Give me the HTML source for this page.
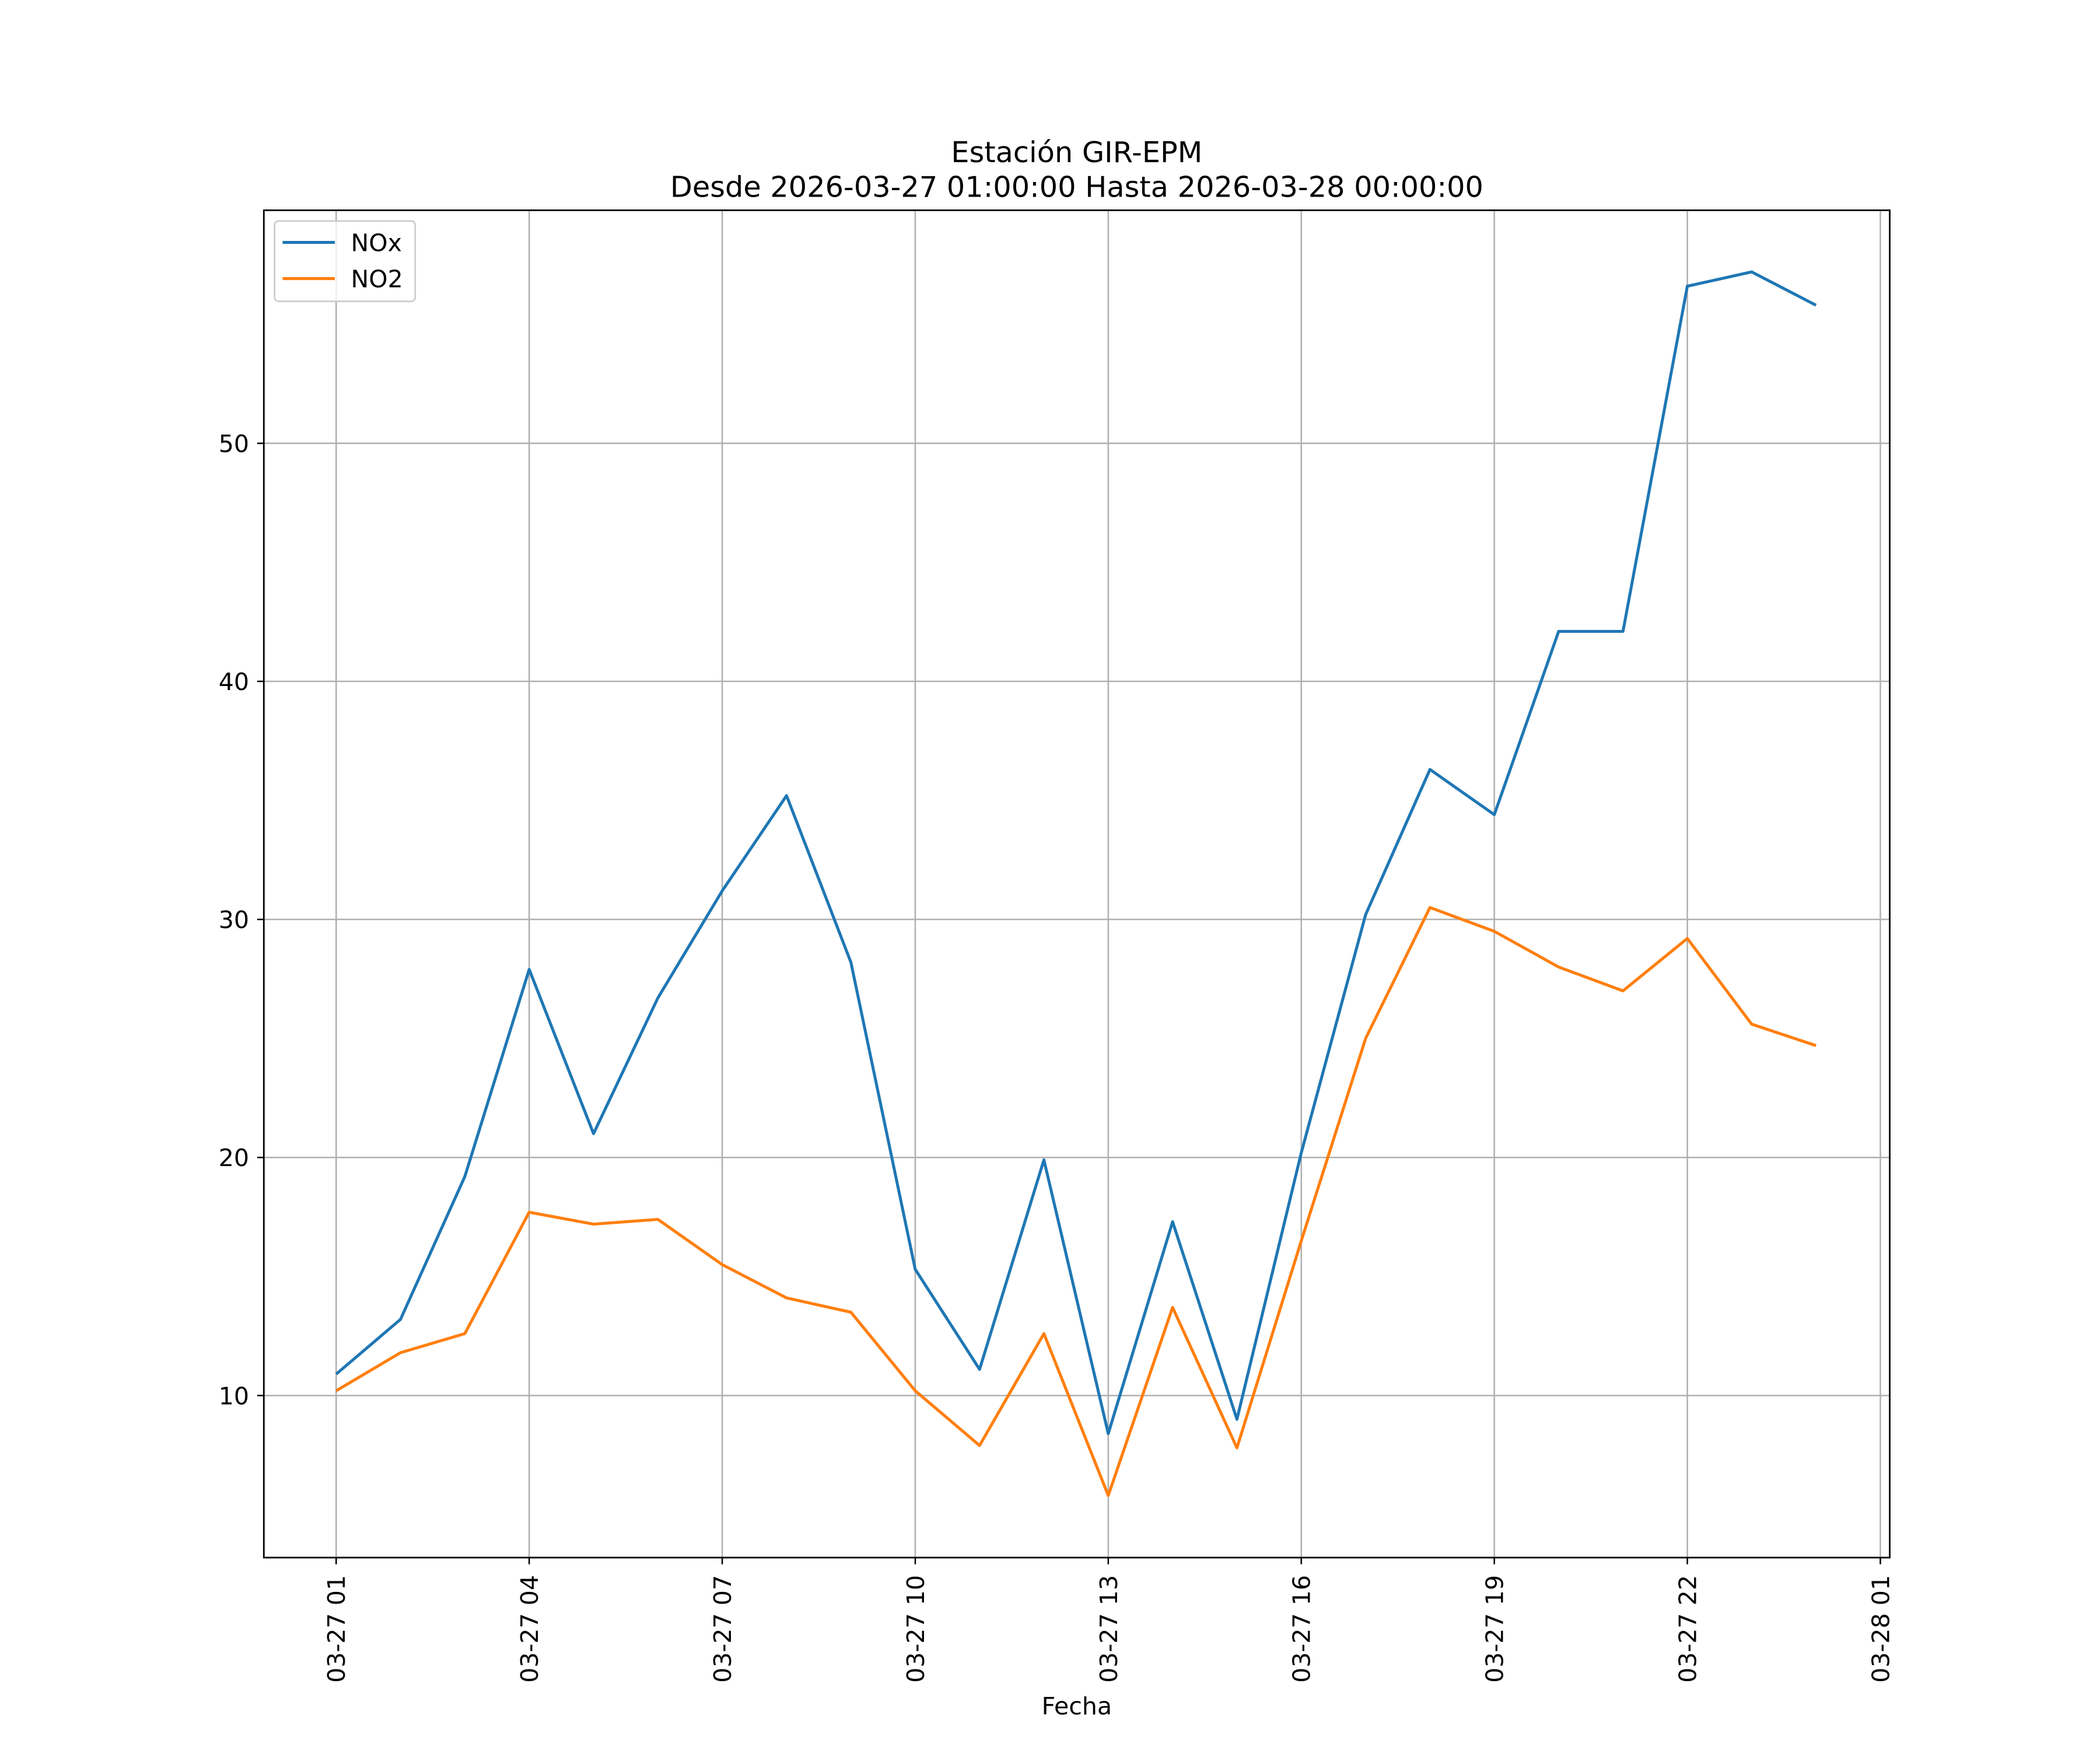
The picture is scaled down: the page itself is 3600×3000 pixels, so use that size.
<!DOCTYPE html>
<html><head><meta charset="utf-8"><style>
html,body{margin:0;padding:0;background:#fff;}
svg{display:block;font-family:"DejaVu Sans","Liberation Sans",sans-serif;}
</style></head>
<body>
<svg id="chart" width="3600" height="3000" viewBox="0 0 1568 1306.67" xmlns="http://www.w3.org/2000/svg">
<rect width="1568" height="1307" fill="#fff"/>
<text x="804" y="121" text-anchor="middle" font-size="21.5">Estación GIR-EPM</text>
<text x="804" y="147" text-anchor="middle" font-size="21.5">Desde 2026-03-27 01:00:00 Hasta 2026-03-28 00:00:00</text>
<g id="grid"></g>
<g id="series"></g>
<rect x="197" y="157" width="1214" height="1006" fill="none" stroke="#000" stroke-width="1.2"/>
<g id="ticks"></g>
<text x="804" y="1280" text-anchor="middle" font-size="17.9">Fecha</text>
<g>
<rect x="205" y="165" width="105" height="60" rx="3" fill="#fff" fill-opacity="0.8" stroke="#ccc" stroke-width="1.2"/>
<line x1="211" y1="181" x2="250" y2="181" stroke="#1f77b4" stroke-width="2.2"/>
<text x="262" y="187.5" font-size="17.9">NOx</text>
<line x1="211" y1="208" x2="250" y2="208" stroke="#ff7f0e" stroke-width="2.2"/>
<text x="262" y="214.5" font-size="17.9">NO2</text>
</g>
</svg>
<script>
const hours = [1,2,3,4,5,6,7,8,9,10,11,12,13,14,15,16,17,18,19,20,21,22,23,24];
const noxValues = [10.9,13.2,19.2,27.9,21.0,26.7,31.2,35.2,28.2,15.3,11.1,19.9,8.4,17.3,9.0,20.2,30.2,36.3,34.4,42.1,42.1,56.6,57.2,55.8];
const no2Values = [10.2,11.8,12.6,17.7,17.2,17.4,15.5,14.1,13.5,10.2,7.9,12.6,5.8,13.7,7.8,16.5,25.0,30.5,29.5,28.0,27.0,29.2,25.6,24.7];
const yTicks = [10,20,30,40,50];
const xTickHours = [1,4,7,10,13,16,19,22,25];
const xTickLabels = ["03-27 01","03-27 04","03-27 07","03-27 10","03-27 13","03-27 16","03-27 19","03-27 22","03-28 01"];

const NS="http://www.w3.org/2000/svg";
const xS = h => 251 + (h-1)*(1404-251)/24;
const yS = v => 1042 - (v-10)*(1042-331)/40;
function mk(tag, attrs, parent){const e=document.createElementNS(NS,tag);for(const k in attrs)e.setAttribute(k,attrs[k]);parent.appendChild(e);return e;}
const grid=document.getElementById('grid'), ticks=document.getElementById('ticks'), series=document.getElementById('series');
yTicks.forEach(v=>{
  const y=yS(v);
  const g=mk('line',{x1:197,x2:1411,y1:y,y2:y,stroke:'#b0b0b0','stroke-width':1.1},grid);
  
  
  mk('line',{x1:192,x2:197,y1:y,y2:y,stroke:'#000','stroke-width':1.1},ticks);
  const t=mk('text',{x:186,y:y+6.5,'text-anchor':'end','font-size':17.9},ticks);
  t.textContent=v;
  
  
});
xTickHours.forEach((h,i)=>{
  const x=xS(h);
  const g=mk('line',{x1:x,x2:x,y1:157,y2:1163,stroke:'#b0b0b0','stroke-width':1.1},grid);
  
  
  mk('line',{x1:x,x2:x,y1:1163,y2:1168,stroke:'#000','stroke-width':1.1},ticks);
  const t=mk('text',{x:0,y:0,'text-anchor':'end','font-size':17.9,transform:`translate(${x+6.5},1176) rotate(-90)`},ticks);
  t.textContent=xTickLabels[i];
  
  
});
function line(vals,color,name){
  const p=mk('polyline',{points:vals.map((v,i)=>xS(hours[i])+','+yS(v)).join(' '),fill:'none',stroke:color,'stroke-width':2.2,'stroke-linejoin':'round'},series);
  
  
}
line(noxValues,'#1f77b4','nox-line');
line(no2Values,'#ff7f0e','no2-line');
</script>
</body></html>
